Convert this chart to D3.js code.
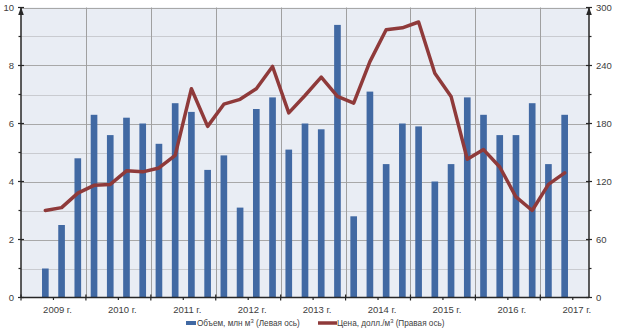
<!DOCTYPE html>
<meta charset="utf-8">
<title>chart</title>
<style>
body { margin: 0; background: #fff; }
text { font-family: "Liberation Sans", Arial, sans-serif; fill: #404040; }
</style>
<svg></svg>
<script src="https://d3js.org/d3.v7.min.js"></script>
<script>
var width = 623, height = 333;
var margin = {top: 7.5, right: 34, bottom: 35.5, left: 21};

// quarter slots on the category axis (first and last are empty)
var quarters = [
  "2009-1", "2009-2", "2009-3", "2009-4",
  "2010-1", "2010-2", "2010-3", "2010-4",
  "2011-1", "2011-2", "2011-3", "2011-4",
  "2012-1", "2012-2", "2012-3", "2012-4",
  "2013-1", "2013-2", "2013-3", "2013-4",
  "2014-1", "2014-2", "2014-3", "2014-4",
  "2015-1", "2015-2", "2015-3", "2015-4",
  "2016-1", "2016-2", "2016-3", "2016-4",
  "2017-1", "2017-2", "2017-3"
];
var dataQuarters = quarters.slice(1, 34);
var years = ["2009", "2010", "2011", "2012", "2013", "2014", "2015", "2016", "2017"];
var yearLabels = ["2009 г.", "2010 г.", "2011 г.", "2012 г.", "2013 г.", "2014 г.", "2015 г.", "2016 г.", "2017 г."];

// volume, mln m3 (left axis)
var volume = [
  1.0, 2.5, 4.8,
  6.3, 5.6, 6.2, 6.0,
  5.3, 6.7, 6.4, 4.4,
  4.9, 3.1, 6.5, 6.9,
  5.1, 6.0, 5.8, 9.4,
  2.8, 7.1, 4.6, 6.0,
  5.9, 4.0, 4.6, 6.9,
  6.3, 5.6, 5.6, 6.7,
  4.6, 6.3
];
// price, USD/m3 (right axis)
var price = [
  90, 93, 108,
  116, 117, 131, 130,
  134, 147, 216, 177,
  200, 205, 216, 239,
  191, 209, 228, 208,
  201, 244, 277, 279,
  285, 232, 208, 143,
  153, 135, 104, 90,
  117, 129
];

var leftTicks = [0, 2, 4, 6, 8, 10];
var rightTicks = [0, 60, 120, 180, 240, 300];

var svg = d3.select("svg").attr("width", width).attr("height", height);

var x0 = margin.left, x1 = width - margin.right;
var yTop = margin.top, yBot = height - margin.bottom;

var x = d3.scaleBand().domain(quarters).range([x0, x1]).padding(0);
var step = x.step();
var barW = step * 0.41;
var cx = function(q) { return x(q) + step / 2; };

var y = d3.scaleLinear().domain([0, 10]).range([yBot, yTop]);
var y2 = d3.scaleLinear().domain([0, 300]).range([yBot, yTop]);

// plot background
svg.append("rect")
  .attr("x", x0).attr("y", yTop)
  .attr("width", x1 - x0).attr("height", yBot - yTop)
  .attr("fill", "#e9edf4");

// horizontal grid
svg.append("g")
  .selectAll("line")
  .data(d3.range(1, 11))
  .enter().append("line")
  .attr("x1", x0).attr("x2", x1)
  .attr("y1", d => Math.round(y(d)) + 0.5)
  .attr("y2", d => Math.round(y(d)) + 0.5)
  .attr("stroke", d => d % 2 === 0 ? "#a8a8a8" : "#c9cbd0")
  .attr("stroke-width", 1);

// vertical grid at year boundaries
svg.append("g")
  .selectAll("line")
  .data(years.slice(1))
  .enter().append("line")
  .attr("x1", d => Math.round(x(d + "-1")) + 0.5)
  .attr("x2", d => Math.round(x(d + "-1")) + 0.5)
  .attr("y1", yTop).attr("y2", yBot)
  .attr("stroke", "#a0a0a0");

// bars
svg.append("g")
  .selectAll("rect")
  .data(volume)
  .enter().append("rect")
  .attr("x", (d, i) => cx(dataQuarters[i]) - barW / 2)
  .attr("y", d => y(d))
  .attr("width", barW)
  .attr("height", d => yBot - y(d))
  .attr("fill", "#4169a3");

// price line
var line = d3.line()
  .x((d, i) => cx(dataQuarters[i]))
  .y(d => y2(d));

svg.append("path")
  .datum(price)
  .attr("d", line)
  .attr("fill", "none")
  .attr("stroke", "#8f3a3a")
  .attr("stroke-width", 3.5)
  .attr("stroke-linejoin", "round")
  .attr("stroke-linecap", "round");

// axes
var axisColor = "#262626";
function vAxis(xp, scale, ticks, minor, side) {
  var g = svg.append("g");
  g.append("line")
    .attr("x1", xp).attr("x2", xp)
    .attr("y1", yTop).attr("y2", yBot)
    .attr("stroke", axisColor).attr("stroke-width", 1.5);
  g.append("path")
    .attr("d", "M" + xp + "," + (yTop - 0.5) + "l-2.8,8h5.6z")
    .attr("fill", axisColor);
  g.selectAll(".maj").data(ticks).enter().append("line")
    .attr("x1", xp - 3).attr("x2", xp + 3)
    .attr("y1", d => scale(d)).attr("y2", d => scale(d))
    .attr("stroke", axisColor).attr("stroke-width", 1.2);
  g.selectAll(".min").data(minor).enter().append("line")
    .attr("x1", xp).attr("x2", xp + side * 2.5)
    .attr("y1", d => scale(d)).attr("y2", d => scale(d))
    .attr("stroke", axisColor).attr("stroke-width", 1.2);
  g.selectAll("text").data(ticks).enter().append("text")
    .attr("x", xp + side * 7)
    .attr("y", d => scale(d))
    .attr("dy", "0.35em")
    .attr("text-anchor", side < 0 ? "end" : "start")
    .attr("font-size", 9.5)
    .text(d => d);
}
vAxis(x0, y, leftTicks, [1, 3, 5, 7, 9], -1);
vAxis(x1, y2, rightTicks, [30, 90, 150, 210, 270], 1);

// category axis
var xg = svg.append("g");
xg.append("line")
  .attr("x1", x0).attr("x2", x1)
  .attr("y1", yBot).attr("y2", yBot)
  .attr("stroke", axisColor).attr("stroke-width", 1.5);
xg.selectAll(".yt").data(years.slice(0, 9)).enter().append("line")
  .attr("x1", d => x(d + "-1")).attr("x2", d => x(d + "-1"))
  .attr("y1", yBot - 3).attr("y2", yBot + 3)
  .attr("stroke", axisColor).attr("stroke-width", 1.2);
xg.selectAll(".mt").data(years).enter().append("line")
  .attr("x1", d => x(d + "-3")).attr("x2", d => x(d + "-3"))
  .attr("y1", yBot).attr("y2", yBot + 2.5)
  .attr("stroke", axisColor).attr("stroke-width", 1.2);
xg.selectAll("text").data(years).enter().append("text")
  .attr("x", d => x(d + "-3") + 4)
  .attr("y", yBot + 15.5)
  .attr("text-anchor", "middle")
  .attr("font-size", 9.5)
  .text((d, i) => yearLabels[i]);

// legend
var lg = svg.append("g").attr("transform", "translate(0,323)");
lg.append("rect")
  .attr("x", 186).attr("y", -2).attr("width", 10).attr("height", 4)
  .attr("fill", "#4169a3");
lg.append("text")
  .attr("x", 197).attr("dy", "0.35em").attr("font-size", 8.2)
  .html("Объем, млн м<tspan dy='-3' font-size='5.8'>3</tspan><tspan dy='3'> (Левая ось)</tspan>");
lg.append("line")
  .attr("x1", 318).attr("x2", 337)
  .attr("stroke", "#8f3a3a").attr("stroke-width", 3.5);
lg.append("text")
  .attr("x", 337).attr("dy", "0.35em").attr("font-size", 8.2)
  .html("Цена, долл./м<tspan dy='-3' font-size='5.8'>3</tspan><tspan dy='3'> (Правая ось)</tspan>");
</script>
